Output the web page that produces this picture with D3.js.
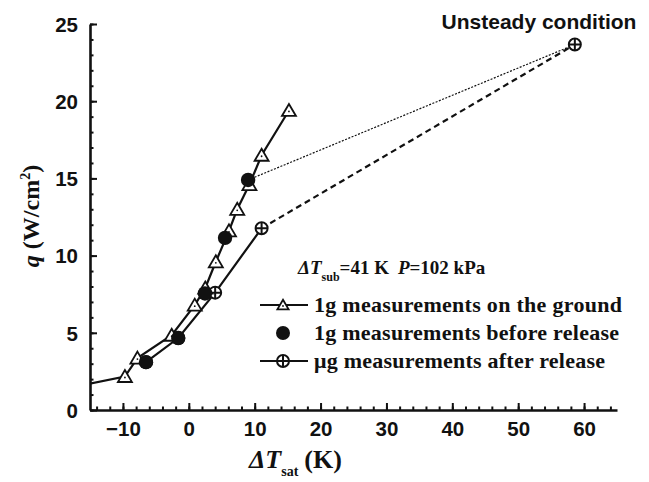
<!DOCTYPE html>
<html>
<head>
<meta charset="utf-8">
<script src="https://cdn.jsdelivr.net/npm/d3@7"></script>
<style>
    body { margin: 0; background: #fff; }
    svg { display: block; }
    .tick text { font-family: "Liberation Sans", Arial, sans-serif; font-weight: bold; font-size: 20.5px; fill: #111; }
    .serif { font-family: "Liberation Serif", "Times New Roman", serif; font-weight: bold; fill: #111; }
</style>
</head>
<body>
<div id="content"></div>
<script>
// 1g measurements on the ground (first point lies left of the frame)
var groundX = [-18, -9.7, -7.8, -2.6, 0.9, 2.5, 4.1, 6.1, 7.35, 9.2, 11.05, 15.2];
var groundQ = [1.45, 2.17, 3.36, 4.84, 6.79, 7.9, 9.6, 11.6, 13.0, 14.6, 16.5, 19.4];

// 1g measurements before release
var beforeX = [-6.5, -1.6, 2.45, 5.5, 9.0];
var beforeQ = [3.1, 4.66, 7.55, 11.15, 14.9];

// microgravity measurements after release
var microX = [-6.5, -1.6, 4.0, 11.05];
var microQ = [3.1, 4.66, 7.6, 11.77];

// unsteady condition point
var unsteadyX = 58.6;
var unsteadyQ = 23.67;

var xTicks = [-10, 0, 10, 20, 30, 40, 50, 60];
var yTicks = [0, 5, 10, 15, 20, 25];

var legendLabels = ["1g measurements on the ground", "1g measurements before release", "\u03bcg measurements after release"];

var margin = {top: 24, right: 32, bottom: 72, left: 90},
    width = 649 - margin.left - margin.right,
    height = 410 - margin.top;

var root = d3.select("div#content").append("svg")
    .attr("width", 649)
    .attr("height", 482);

var svg = root.append("g")
    .attr("transform", "translate(" + margin.left + "," + margin.top + ")");

var x = d3.scaleLinear().domain([-15, 65]).range([0, width]);
var y = d3.scaleLinear().domain([0, 25]).range([height, 0]);

root.append("defs").append("clipPath").attr("id", "clip")
    .append("rect").attr("width", width).attr("height", height);

// minor ticks
svg.append("g")
    .attr("transform", "translate(0," + height + ")")
    .call(d3.axisBottom(x).tickValues(d3.range(-14, 65, 2)).tickSize(-3.5).tickFormat(""))
    .call(function(g) { g.select(".domain").remove(); });
svg.append("g")
    .call(d3.axisLeft(y).tickValues(d3.range(0, 26, 1)).tickSize(-3.5).tickFormat(""))
    .call(function(g) { g.select(".domain").remove(); });

// major ticks
var xAxis = svg.append("g")
    .attr("transform", "translate(0," + height + ")")
    .call(d3.axisBottom(x).tickValues(xTicks).tickSize(-7).tickPadding(11).tickSizeOuter(0));
var yAxis = svg.append("g")
    .call(d3.axisLeft(y).tickValues(yTicks).tickSize(-7).tickPadding(12).tickSizeOuter(0));

svg.selectAll(".tick line").attr("stroke", "#111").attr("stroke-width", 2);
svg.selectAll(".domain").attr("stroke", "#111").attr("stroke-width", 2.6);
yAxis.selectAll(".tick text").attr("dy", "0.36em");

var plot = svg.append("g").attr("clip-path", "url(#clip)");

var line = d3.line()
    .x(function(d) { return x(d[0]); })
    .y(function(d) { return y(d[1]); });

var ground = d3.zip(groundX, groundQ);
var before = d3.zip(beforeX, beforeQ);
var micro = d3.zip(microX, microQ);

// connecting lines
plot.append("path").datum(ground).attr("d", line)
    .attr("fill", "none").attr("stroke", "#111").attr("stroke-width", 2.2);
plot.append("path").datum(micro).attr("d", line)
    .attr("fill", "none").attr("stroke", "#111").attr("stroke-width", 2.2);
plot.append("path").datum([micro[micro.length - 1], [unsteadyX, unsteadyQ]]).attr("d", line)
    .attr("fill", "none").attr("stroke", "#111").attr("stroke-width", 2.2)
    .attr("stroke-dasharray", "6,4");
plot.append("path").datum([before[before.length - 1], [unsteadyX, unsteadyQ]]).attr("d", line)
    .attr("fill", "none").attr("stroke", "#111").attr("stroke-width", 1.2)
    .attr("stroke-dasharray", "2,1.5");

function drawTriangle(g, s) {
    g.append("path").attr("d", "M0," + (-6.5 * s) + "L" + (7 * s) + "," + (5.5 * s) + "L" + (-7 * s) + "," + (5.5 * s) + "Z")
        .attr("fill", "#fff").attr("stroke", "#111").attr("stroke-width", 1.8);
    g.append("circle").attr("r", 0.9).attr("cy", 1).attr("fill", "#111");
}
function drawCross(g) {
    g.append("circle").attr("r", 6)
        .attr("fill", "#fff").attr("stroke", "#111").attr("stroke-width", 2);
    g.append("path").attr("d", "M-6,0H6M0,-6V6")
        .attr("stroke", "#111").attr("stroke-width", 2);
}

// markers
plot.selectAll(".micro").data(micro.concat([[unsteadyX, unsteadyQ]]))
    .enter().append("g").attr("class", "micro")
    .attr("transform", function(d) { return "translate(" + x(d[0]) + "," + y(d[1]) + ")"; })
    .each(function() { drawCross(d3.select(this)); });

plot.selectAll(".ground").data(ground)
    .enter().append("g").attr("class", "ground")
    .attr("transform", function(d) { return "translate(" + x(d[0]) + "," + y(d[1]) + ")"; })
    .each(function() { drawTriangle(d3.select(this), 1); });

plot.selectAll(".before").data(before)
    .enter().append("circle").attr("class", "before")
    .attr("cx", function(d) { return x(d[0]); })
    .attr("cy", function(d) { return y(d[1]); })
    .attr("r", 7.2)
    .attr("fill", "#111");

// axis titles
var ytitle = root.append("text").attr("class", "serif")
    .attr("transform", "translate(39,216) rotate(-90)")
    .attr("text-anchor", "middle")
    .style("font-size", "24px");
ytitle.append("tspan").style("font-style", "italic").text("q");
ytitle.append("tspan").text(" (W/cm");
ytitle.append("tspan").attr("dy", -9).style("font-size", "14px").text("2");
ytitle.append("tspan").attr("dy", 9).text(")");

var xtitle = root.append("text").attr("class", "serif")
    .attr("x", 249).attr("y", 468)
    .style("font-size", "26px");
xtitle.append("tspan").style("font-style", "italic").text("\u0394T");
xtitle.append("tspan").attr("dy", 8).style("font-size", "14px").text("sat");
xtitle.append("tspan").attr("dy", -8).attr("dx", 6).text("(K)");

// annotations
root.append("text")
    .attr("x", 539).attr("y", 29)
    .attr("text-anchor", "middle")
    .style("font-family", "Liberation Sans, Arial, sans-serif")
    .style("font-weight", "bold")
    .style("font-size", "21px")
    .attr("fill", "#111")
    .text("Unsteady condition");

var cond = root.append("text").attr("class", "serif")
    .attr("x", 298).attr("y", 274)
    .style("font-size", "19px");
cond.append("tspan").style("font-style", "italic").text("\u0394T");
cond.append("tspan").attr("dy", 7).style("font-size", "12px").text("sub");
cond.append("tspan").attr("dy", -7).text("=41 K");
cond.append("tspan").attr("dx", 9).style("font-style", "italic").text("P");
cond.append("tspan").text("=102 kPa");

// legend
var legend = root.append("g").attr("transform", "translate(260,305)");
var rowGap = 28;
legendLabels.forEach(function(label, i) {
    var row = legend.append("g").attr("transform", "translate(0," + (i * rowGap) + ")");
    if (i !== 1) {
        row.append("line").attr("x1", 0).attr("x2", 48)
            .attr("stroke", "#111").attr("stroke-width", 2.2);
    }
    var m = row.append("g").attr("transform", "translate(23,0)");
    if (i === 0) drawTriangle(m, 0.8);
    else if (i === 1) m.append("circle").attr("r", 7).attr("fill", "#111");
    else drawCross(m);
    row.append("text").attr("class", "serif")
        .attr("x", 54).attr("y", 7)
        .style("font-size", "22px")
        .attr("textLength", [308, 305, 291][i])
        .attr("lengthAdjust", "spacing")
        .text(label);
});
</script>
</body>
</html>
